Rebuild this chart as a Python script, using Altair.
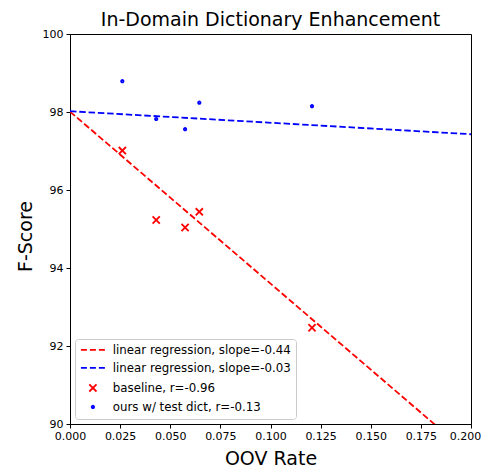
import altair as alt
import pandas as pd

# ---- data ----
oov_rate = [0.0261, 0.0430, 0.0574, 0.0645, 0.1207]
baseline_f = [97.01, 95.23, 95.04, 95.44, 92.47]
ours_f = [98.79, 97.82, 97.56, 98.24, 98.15]

# regression line end points (x = 0 and x = 0.2)
line_x = [0.0, 0.2]
baseline_line_y = [98.01, 89.19]
ours_line_y = [98.02, 97.43]

labels = [
    "linear regression, slope=-0.44",
    "linear regression, slope=-0.03",
    "baseline, r=-0.96",
    "ours w/ test dict, r=-0.13",
]
colors = ["#ff0000", "#0000ff", "#ff0000", "#0000ff"]
dash_path = "M-3,0H-1.5M-0.75,0H0.75M1.5,0H3"
shapes = [
    dash_path,
    dash_path,
    "M-0.9,-0.9L0.9,0.9M-0.9,0.9L0.9,-0.9",
    "M0.3,0A0.3,0.3,0,1,1,-0.3,0A0.3,0.3,0,1,1,0.3,0Z",
]

x_ticks = [0.0, 0.025, 0.05, 0.075, 0.1, 0.125, 0.15, 0.175, 0.2]
y_ticks = [90, 92, 94, 96, 98, 100]

pts = pd.DataFrame({
    "x": oov_rate + oov_rate,
    "y": baseline_f + ours_f,
    "entry": [labels[2]] * len(oov_rate) + [labels[3]] * len(oov_rate),
})
lines = pd.DataFrame({
    "x": line_x + line_x,
    "y": baseline_line_y + ours_line_y,
    "entry": [labels[0]] * 2 + [labels[1]] * 2,
})

color_scale = alt.Scale(domain=labels, range=colors)
shape_scale = alt.Scale(domain=labels, range=shapes)

xscale = alt.Scale(domain=[0, 0.2], nice=False, zero=False)
yscale = alt.Scale(domain=[90, 100], nice=False, zero=False)

xaxis = alt.Axis(values=x_ticks, format=".3f", title="OOV Rate", grid=False,
                 tickSize=4, labelFontSize=11, titleFontSize=19,
                 titleFontWeight="normal", labelColor="black", titleColor="black",
                 domainColor="black", tickColor="black", labelPadding=2,
                 titlePadding=8, labelFlush=False,
                 labelOffset={"condition": {"test": "datum.value >= 0.2", "value": -6},
                              "value": 0})
yaxis = alt.Axis(values=y_ticks, format="d", title="F-Score", grid=False,
                 tickSize=4, labelFontSize=11, titleFontSize=19,
                 titleFontWeight="normal", labelColor="black", titleColor="black",
                 domainColor="black", tickColor="black", labelPadding=3,
                 titlePadding=7, titleY=202, labelFlush=False)

leg = alt.Legend(title=None, orient="bottom-left", offset=5, padding=5,
                 labelFontSize=11.8, labelFont="DejaVu Sans", labelColor="black",
                 labelLimit=400,
                 symbolSize=64, symbolStrokeWidth=1.8, symbolOffset=7,
                 labelOffset=14, rowPadding=5, strokeColor="#cccccc",
                 fillColor="#ffffff", cornerRadius=3, symbolOpacity=1)

point_layer = alt.Chart(pts).mark_point(
    size=64, opacity=1, strokeWidth=1.8, filled=False
).encode(
    x=alt.X("x:Q", scale=xscale, axis=xaxis),
    y=alt.Y("y:Q", scale=yscale, axis=yaxis),
    color=alt.Color("entry:N", scale=color_scale, legend=leg),
    shape=alt.Shape("entry:N", scale=shape_scale, legend=leg),
)

line_layer = alt.Chart(lines).mark_line(
    strokeDash=[6.5, 2.8], strokeWidth=1.8, clip=True
).encode(
    x=alt.X("x:Q", scale=xscale, axis=xaxis),
    y=alt.Y("y:Q", scale=yscale, axis=yaxis),
    color=alt.Color("entry:N", scale=color_scale, legend=leg),
)

chart = alt.layer(point_layer, line_layer).properties(
    width=401,
    height=390,
    title=alt.TitleParams("In-Domain Dictionary Enhancement", fontSize=19,
                          fontWeight="normal", font="DejaVu Sans", color="black",
                          anchor="middle", frame="group", offset=7, dy=9),
    padding={"left": 62, "top": 26, "right": 10, "bottom": 44},
    autosize="none",
).configure(
    font="DejaVu Sans",
).configure_view(
    stroke="black", strokeWidth=1,
)

chart.save("out.html", embed_options={"renderer": "svg", "actions": False})
